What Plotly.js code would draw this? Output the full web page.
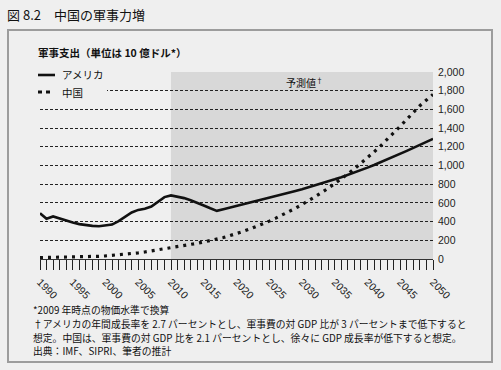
<!DOCTYPE html>
<html>
<head>
<meta charset="utf-8">
<script src="https://cdn.plot.ly/plotly-3.0.1.min.js"></script>
<style>
html,body{margin:0;padding:0;background:#efefef;}
#chart{width:501px;height:370px;}
</style>
</head>
<body>
<div id="chart"></div>
<script>
var years = [1990,1991,1992,1993,1994,1995,1996,1997,1998,1999,
  2000,2001,2002,2003,2004,2005,2006,2007,2008,2009,
  2010,2011,2012,2013,2014,2015,2016,2017,2018,2019,
  2020,2021,2022,2023,2024,2025,2026,2027,2028,2029,
  2030,2031,2032,2033,2034,2035,2036,2037,2038,2039,
  2040,2041,2042,2043,2044,2045,2046,2047,2048,2049,2050];

var usSpending = [490,430,455,432,410,390,373,362,354,350,
  362,368,405,455,497,525,537,561,615,662,
  680,668,651,629,604,572,542,515,532,549,
  566,583,600,618,636,654,672,690,708,727,
  746,766,787,808,830,852,875,899,924,950,
  977,1005,1034,1064,1094,1125,1156,1188,1220,1252,1285];

var chinaSpending = [15,16,17,17,17,18,20,22,25,29,
  33,38,44,50,57,66,75,86,97,110,
  118,130,142,155,168,182,196,212,230,250,
  270,295,320,347,375,405,437,470,505,543,
  582,623,665,710,757,806,857,910,965,1022,
  1082,1145,1210,1278,1348,1420,1494,1570,1640,1700,1760];

var seriesNames = ['アメリカ', '中国'];
var yTickVals = [0,200,400,600,800,1000,1200,1400,1600,1800,2000];
var forecastStart = 2010;
var forecastEnd = 2050;

var titleText = '図 8.2　中国の軍事力増';
var unitText = '軍事支出（単位は 10 億ドル*）';
var forecastText = '予測値<sup>†</sup>';
var notes = [
  '*2009 年時点の物価水準で換算',
  '†アメリカの年間成長率を 2.7 パーセントとし、軍事費の対 GDP 比が 3 パーセントまで低下すると',
  '想定。中国は、軍事費の対 GDP 比を 2.1 パーセントとし、徐々に GDP 成長率が低下すると想定。',
  '出典：IMF、SIPRI、筆者の推計'
];

var ML = 40, MR = 68, MT = 72, MB = 111, W = 501, H = 370;
var PW = W - ML - MR, PH = H - MT - MB;
function px(x){ return (x - ML) / PW; }
function py(y){ return (H - MB - y) / PH; }

var FONT = 'Liberation Sans, Arial, Noto Sans CJK JP, sans-serif';
var JFONT = 'Noto Sans CJK JP, Liberation Sans, sans-serif';
var BG = '#efefef';

var traces = [
  {x: years, y: usSpending, name: seriesNames[0], type: 'scatter', mode: 'lines',
   line: {color: '#111', width: 2.6}, hoverinfo: 'skip'},
  {x: years, y: chinaSpending, name: seriesNames[1], type: 'scatter', mode: 'lines',
   line: {color: '#111', width: 3.2, dash: '3px,5px'}, hoverinfo: 'skip'}
];

function ann(text, x, y, size, extra){
  var a = {text: text, xref: 'paper', yref: 'paper', x: px(x), y: py(y),
    xanchor: 'left', yanchor: 'middle', showarrow: false,
    font: {family: JFONT, size: size, color: '#111'}};
  if (extra) for (var k in extra) a[k] = extra[k];
  return a;
}

var annotations = [
  ann(titleText, 5, 15, 13),
  ann('<b>' + unitText + '</b>', 36, 52, 10.5),
  ann(seriesNames[0], 60, 75, 10.5),
  ann(seriesNames[1], 60, 92, 10.5),
  ann(forecastText, 284, 82, 10)
];
var noteY = [310, 324, 338, 351];
for (var i = 0; i < notes.length; i++) annotations.push(ann(notes[i], 31, noteY[i], 9.8));

var shapes = [
  {type: 'rect', xref: 'x', yref: 'y', x0: forecastStart, x1: forecastEnd, y0: 0, y1: 2000,
   fillcolor: '#d8d8d8', line: {width: 0}, layer: 'below'},
  {type: 'rect', xref: 'paper', yref: 'paper', x0: px(8), x1: px(492), y0: py(30), y1: py(362),
   fillcolor: 'rgba(0,0,0,0)', line: {color: '#9c9c9c', width: 2}, layer: 'above'},
  {type: 'rect', xref: 'paper', yref: 'paper', x0: px(40), x1: px(107), y0: py(66), y1: py(100),
   fillcolor: BG, line: {width: 0}, layer: 'above'},
  {type: 'line', xref: 'paper', yref: 'paper', x0: px(38), x1: px(55), y0: py(75), y1: py(75),
   line: {color: '#111', width: 2.6}, layer: 'above'},
  {type: 'line', xref: 'paper', yref: 'paper', x0: px(38), x1: px(52), y0: py(92), y1: py(92),
   line: {color: '#111', width: 3.2, dash: '4px,4px'}, layer: 'above'}
];

var layout = {
  width: W, height: H,
  margin: {l: ML, r: MR, t: MT, b: MB, pad: 0},
  paper_bgcolor: BG, plot_bgcolor: BG,
  showlegend: false,
  font: {family: FONT, size: 11, color: '#111'},
  xaxis: {
    range: [1990, 2050], tick0: 1990, dtick: 5,
    tickangle: 45, ticks: 'outside', ticklen: 10, tickwidth: 1, tickcolor: '#222',
    ticklabelstandoff: 2,
    minor: {dtick: 1, tick0: 1990, ticks: 'outside', ticklen: 10, tickwidth: 1, tickcolor: '#222', showgrid: false},
    showgrid: false, zeroline: false, showline: true, linecolor: '#333', linewidth: 1,
    tickfont: {family: FONT, size: 10.5, color: '#222'}, fixedrange: true
  },
  yaxis: {
    range: [0, 2000], side: 'right', tickvals: yTickVals, tickformat: ',d',
    showgrid: true, gridcolor: '#222', gridwidth: 1, griddash: '3px,2px',
    zeroline: false, showline: false, ticks: '', ticklabelstandoff: 4,
    tickfont: {family: FONT, size: 10.5, color: '#222'}, fixedrange: true
  },
  shapes: shapes,
  annotations: annotations
};

Plotly.newPlot('chart', traces, layout, {displayModeBar: false, staticPlot: true});
</script>
</body>
</html>
